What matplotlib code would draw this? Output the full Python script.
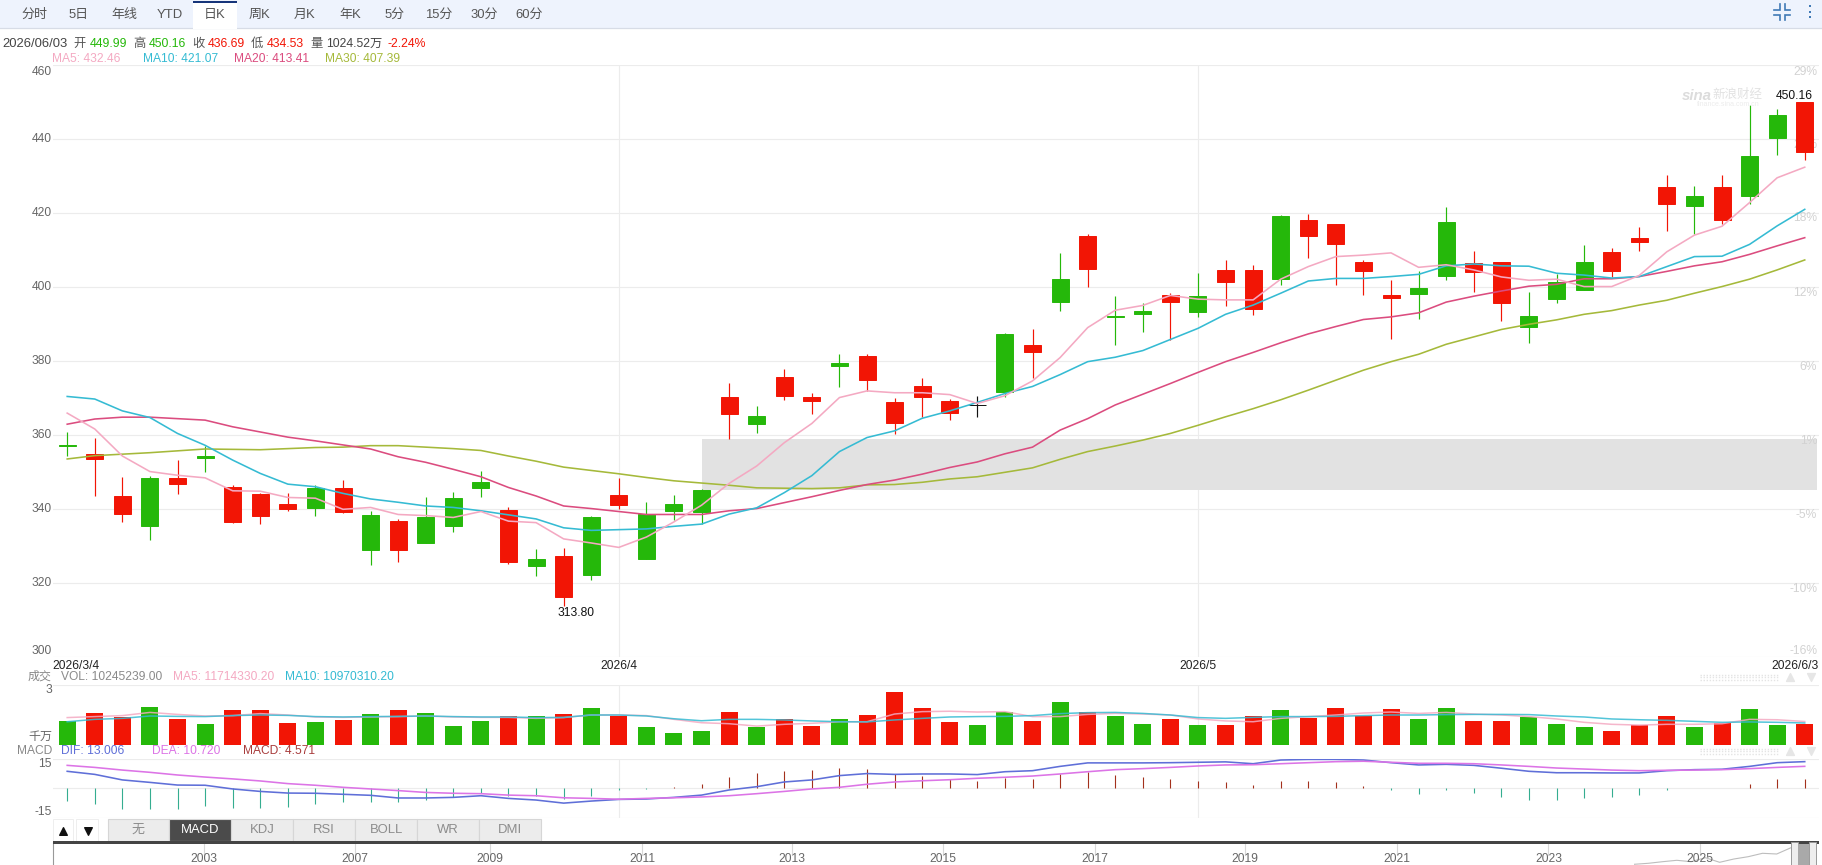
import numpy as np
import matplotlib
matplotlib.use("Agg")
import matplotlib.pyplot as plt
from matplotlib.patches import Rectangle

plt.rcParams['font.family'] = ['Liberation Sans', 'Noto Sans CJK SC', 'DejaVu Sans']

W, H = 1822, 865

# Daily candles, 2026/3/4 to 2026/6/3
opens = [357.2,355.0,343.6,335.5,348.5,353.9,346.0,344.1,341.4,340.4,345.8,329.0,336.8,330.9,335.5,345.8,
         339.8,324.7,327.4,322.3,343.8,326.6,339.5,339.3,370.3,363.0,375.8,370.3,378.7,381.4,369.0,373.3,
         369.3,368.2,371.7,384.4,396.0,413.9,392.1,392.8,397.9,393.3,404.7,404.7,402.2,418.2,417.1,406.8,
         397.9,398.2,403.0,406.5,406.8,389.3,396.8,399.3,409.5,413.3,427.1,422.0,427.1,424.7,440.3,449.99]
closes = [357.4,353.6,338.7,348.5,346.8,354.4,336.6,338.2,340.1,345.8,339.3,338.5,329.0,338.0,343.1,347.4,
          325.8,326.6,316.3,337.9,341.2,338.8,341.4,345.2,365.8,365.2,370.6,369.2,379.5,374.9,363.3,370.3,
          366.0,368.2,387.4,382.5,402.2,404.9,392.3,393.6,396.0,397.6,401.4,394.1,419.3,413.9,411.7,404.4,
          397.1,399.8,417.6,404.1,395.7,392.2,401.4,406.8,404.4,412.2,422.5,424.7,418.2,435.5,446.6,436.69]
highs = [360.8,359.3,348.6,349.1,353.3,357.2,346.7,344.4,344.4,346.5,347.8,339.6,337.3,343.2,344.7,350.4,
         340.7,329.4,329.5,338.2,348.5,341.9,343.9,345.4,374.1,367.9,377.8,371.3,381.9,381.9,370.1,375.4,
         369.8,370.6,387.7,388.6,409.3,414.3,397.6,395.7,398.5,403.8,407.5,405.9,419.5,419.8,417.1,407.5,
         402.1,404.4,421.8,409.7,406.8,398.7,403.6,411.3,410.5,416.4,430.4,427.4,430.3,449.2,448.2,450.16]
lows = [354.4,343.7,336.6,331.7,344.1,350.1,336.2,336.0,339.5,338.2,339.1,325.0,325.8,330.9,333.9,343.3,
        325.2,322.0,313.80,320.9,340.0,326.6,337.1,336.0,359.0,360.5,369.5,365.8,373.0,371.9,360.4,365.0,
        364.1,364.9,370.4,375.6,393.7,400.2,384.5,388.0,385.7,392.0,394.9,392.4,400.5,407.9,400.7,398.0,
        385.9,391.3,402.0,398.6,390.9,384.9,395.7,399.3,402.7,409.8,415.2,414.5,417.1,422.5,435.8,434.53]

# Moving averages of the close
ma5 = [366.0,361.7,354.4,350.2,349.2,348.5,345.0,344.9,343.2,343.0,340.0,340.5,338.6,338.3,337.8,339.4,
       336.8,336.4,332.0,330.9,329.7,332.5,336.6,341.1,347.0,351.7,358.0,363.2,370.2,372.0,371.5,371.5,
       371.0,368.6,370.7,374.7,381.0,389.1,393.8,395.1,397.8,396.8,396.6,396.6,402.2,405.6,408.3,408.7,
       409.3,405.4,406.1,404.7,402.8,401.9,402.2,400.2,400.2,403.2,409.6,414.1,416.5,422.9,429.6,432.46]
ma10 = [370.5,369.8,366.6,364.8,360.5,357.3,353.3,349.7,346.8,346.1,344.3,342.8,341.9,340.9,340.5,339.6,
        338.5,337.4,335.0,334.3,334.5,334.7,335.4,336.0,338.7,340.4,344.5,349.1,355.6,359.4,361.2,364.6,
        366.6,368.9,371.3,373.2,376.4,379.9,381.1,382.9,385.9,388.9,392.7,395.2,398.4,401.7,402.4,402.4,
        402.9,403.5,405.8,406.3,405.8,405.7,403.8,403.3,402.5,402.9,405.6,408.3,408.4,411.6,416.6,421.07]
ma20 = [363.0,364.4,364.9,364.9,364.5,364.1,362.3,360.9,359.5,358.5,357.4,356.3,354.2,352.7,350.8,348.8,
        345.9,343.6,340.9,340.2,339.4,338.6,338.6,338.6,339.6,340.2,341.8,343.4,345.1,346.7,347.9,349.5,
        351.3,352.8,355.0,356.8,361.4,364.5,368.2,371.1,374.0,377.0,379.9,382.4,385.0,387.4,389.4,391.3,
        392.0,393.1,396.0,397.6,399.0,400.3,400.8,402.3,402.3,402.9,404.3,405.8,406.9,408.9,411.2,413.41]
ma30 = [353.6,354.5,354.9,355.3,355.8,356.3,356.2,356.1,356.4,356.7,356.8,357.2,357.2,356.8,356.4,355.9,
        354.4,353.0,351.4,350.5,349.6,348.6,347.7,347.1,346.5,345.8,345.7,345.6,345.8,346.6,346.7,347.3,
        348.2,348.8,350.0,351.2,353.5,355.6,357.1,358.7,360.5,362.7,365.0,367.2,369.6,372.2,374.9,377.6,
        379.9,381.9,384.6,386.6,388.6,390.0,391.2,392.7,393.7,395.2,396.5,398.4,400.2,402.2,404.7,407.39]

# Volume in units of ten million shares, with its own averages
volume = [1.197,1.601,1.399,1.904,1.298,1.045,1.753,1.753,1.096,1.146,1.247,1.551,1.753,1.601,0.944,1.197,
          1.449,1.449,1.551,1.854,1.449,0.893,0.590,0.691,1.652,0.893,1.298,0.944,1.298,1.500,2.663,1.854,
          1.146,0.994,1.652,1.197,2.157,1.652,1.449,1.045,1.298,0.994,0.994,1.449,1.753,1.348,1.854,1.449,
          1.803,1.298,1.854,1.197,1.197,1.399,1.045,0.893,0.691,0.994,1.449,0.893,1.096,1.803,0.994,1.0245]
vol_ma5 = [1.37,1.42,1.47,1.63,1.53,1.45,1.47,1.57,1.50,1.40,1.38,1.40,1.42,1.45,1.40,1.38,1.38,1.33,1.37,1.50,1.50,
           1.47,1.28,1.11,1.06,0.94,1.03,1.08,1.16,1.16,1.55,1.67,1.69,1.65,1.67,1.42,1.42,1.53,1.58,1.55,1.50,1.30,1.20,
           1.16,1.33,1.42,1.50,1.60,1.65,1.58,1.63,1.55,1.50,1.42,1.30,1.13,1.03,0.99,1.03,1.03,1.06,1.28,1.26,1.171]
vol_ma10 = [1.16,1.28,1.33,1.45,1.43,1.42,1.47,1.50,1.48,1.42,1.40,1.42,1.43,1.45,1.42,1.40,1.40,1.37,1.38,1.50,1.50,
            1.45,1.31,1.21,1.28,1.28,1.25,1.20,1.16,1.15,1.25,1.33,1.40,1.42,1.43,1.47,1.57,1.62,1.63,1.58,1.50,1.37,1.33,
            1.38,1.42,1.42,1.43,1.47,1.50,1.50,1.52,1.53,1.53,1.52,1.45,1.40,1.30,1.26,1.23,1.18,1.13,1.15,1.13,1.097]

# MACD study
dif = [8.3,6.8,4.1,2.9,1.6,1.5,-0.3,-1.5,-2.3,-2.4,-2.9,-3.4,-4.7,-4.7,-4.4,-3.6,-4.9,-5.7,-7.2,-6.2,-5.4,
       -5.2,-4.4,-3.3,-0.8,0.8,3.1,4.1,6.2,7.2,6.8,7.0,7.0,6.7,8.1,8.6,10.7,12.4,12.4,12.4,12.5,12.7,12.9,
       12.0,13.8,14.1,14.1,13.8,12.5,11.4,11.7,11.2,9.8,8.3,7.6,7.6,7.5,7.5,8.6,9.1,9.3,10.7,12.5,13.006]
dea = [11.2,10.2,8.9,7.8,6.5,5.5,4.6,3.6,2.3,1.5,0.5,-0.3,-1.1,-2.0,-2.4,-2.6,-3.3,-3.6,-4.6,-4.9,-5.3,
       -4.9,-4.6,-4.2,-3.6,-2.6,-1.5,-0.3,0.5,2.0,3.1,3.7,4.2,4.9,5.4,6.0,7.0,8.1,9.1,9.6,10.2,10.9,11.4,
       11.5,12.0,12.5,13.0,13.2,12.7,12.2,12.2,12.0,11.4,10.7,9.9,9.4,8.9,8.6,8.8,8.9,9.1,9.6,10.2,10.72]
macd = [-6.2,-7.6,-10.1,-10.2,-10.1,-8.6,-9.6,-9.6,-9.1,-7.6,-6.8,-6.5,-6.8,-5.7,-4.4,-2.4,-3.7,-3.9,-5.4,-3.6,-1.0,
        -0.1,0.8,2.1,5.4,7.3,8.6,8.9,10.1,9.6,6.8,5.9,4.6,3.6,5.0,4.7,6.8,8.1,6.5,5.4,4.4,3.6,3.1,
        1.6,3.6,3.6,2.9,1.1,-1.0,-2.6,-1.0,-2.3,-4.2,-5.7,-5.7,-4.7,-4.4,-3.1,-0.6,0.3,0.3,2.3,4.4,4.571]

# Overview strip under the year axis
overview = [0.7,1.7,3.3,4.7,3.3,7.3,2.7,6.0,8.3,11.7,11.0,17.3]

price_ticks = [460,440,420,400,380,360,340,320,300]
pct_labels = ['29%','24%','18%','12%','6%','1%','-5%','-10%','-16%']
month_idx = [20,41]
month_labels = ['2026/4','2026/5']
year_labels = ['2003','2007','2009','2011','2013','2015','2017','2019','2021','2023','2025']
period_tabs = ['分时','5日','年线','YTD','日K','周K','月K','年K','5分','15分','30分','60分']
study_tabs = ['无','MACD','KDJ','RSI','BOLL','WR','DMI']

RED, GREEN = '#f21505', '#25b80a'
C_MA5, C_MA10, C_MA20, C_MA30 = '#f4a9c2', '#35bbd3', '#db4c7f', '#a5b93a'
GRID = '#ececec'
n = len(opens)
x = np.arange(n)
x_first, step = 67.2, 27.58
L, R = 52.6, 1819.0
xlim = ((L - x_first) / step, (R - x_first) / step)
BODY = 17 / step


def panel(top, bottom):
    ax = fig.add_axes([L / W, 1 - bottom / H, (R - L) / W, (bottom - top) / H])
    ax.set_xlim(*xlim)
    ax.patch.set_alpha(0)
    for s in ax.spines.values():
        s.set_visible(False)
    ax.set_xticks([])
    ax.tick_params(left=False, labelleft=False)
    return ax


def px(s):
    return s * 0.72


fig = plt.figure(figsize=(W / 100, H / 100), dpi=100, facecolor='white')

# overlay in figure pixels for chrome and text
ui = fig.add_axes([0, 0, 1, 1], zorder=10)
ui.set_xlim(0, W)
ui.set_ylim(H, 0)
ui.axis('off')
ui.patch.set_alpha(0)

# --- price panel ---
ax = panel(65.3, 657.3)
ax.set_ylim(300, 460)
ax.set_yticks(price_ticks)
ax.grid(axis='y', color=GRID, lw=0.8, zorder=0)
ax.set_axisbelow(True)
for m in month_idx:
    ax.axvline(m, color=GRID, lw=0.8, zorder=0)
ax.add_patch(Rectangle((23.0, 345.2), xlim[1] - 23.0 - 0.07, 13.8, fc='#e2e2e2', ec='none', zorder=1))
colors = [('#111111' if o == c else (GREEN if c > o else RED)) for o, c in zip(opens, closes)]
ax.vlines(x, lows, highs, colors=colors, lw=0.85, zorder=2)
ax.bar(x, np.abs(np.subtract(closes, opens)), BODY, np.minimum(opens, closes),
       color=colors, edgecolor=colors, lw=0.7, zorder=3)
for vals, c in [(ma30, C_MA30), (ma20, C_MA20), (ma10, C_MA10), (ma5, C_MA5)]:
    ax.plot(x, vals, color=c, lw=1.15, zorder=4, solid_joinstyle='round')

# percent scale sits under the candles
pct_y = [71.7, 145, 218.3, 292.7, 366.7, 440.5, 515, 589, 651]
for yp, s in zip(pct_y, pct_labels):
    ax.text(1817, yp, s, color='#d2d2d2', ha='right', va='center', fontsize=px(12),
            transform=ui.transData, zorder=1.5, clip_on=False)

# --- volume panel ---
ax_v = panel(685.3, 744.7)
ax_v.set_ylim(0, 3)
ax_v.set_yticks([0, 3])
ax_v.grid(axis='y', color=GRID, lw=0.8)
ax_v.set_axisbelow(True)
for m in month_idx:
    ax_v.axvline(m, color=GRID, lw=0.8, zorder=0)
vol_colors = [GREEN if c >= o else RED for o, c in zip(opens, closes)]
ax_v.bar(x, volume, BODY, color=vol_colors, zorder=2)
ax_v.plot(x, vol_ma5, color=C_MA5, lw=1.1, alpha=0.85, zorder=3)
ax_v.plot(x, vol_ma10, color=C_MA10, lw=1.1, alpha=0.85, zorder=3)

# --- MACD panel ---
ax_m = panel(759.3, 818.3)
ax_m.set_ylim(-14.6, 14.15)
ax_m.set_yticks([-14.6, 0, 14.15])
ax_m.grid(axis='y', color=GRID, lw=0.8)
ax_m.set_axisbelow(True)
for m in month_idx:
    ax_m.axvline(m, color=GRID, lw=0.8, zorder=0)
hist_colors = ['#a3301c' if v > 0 else '#35ad90' for v in macd]
ax_m.vlines(x, 0, macd, colors=hist_colors, lw=0.8, zorder=2)
ax_m.plot(x, dif, color='#5f6fd8', lw=1.15, zorder=3)
ax_m.plot(x, dea, color='#dc74e6', lw=1.15, zorder=3)

# --- overview line ---
ax_n = fig.add_axes([1634 / W, 0, 157 / W, 20 / H])
ax_n.axis('off')
ax_n.set_ylim(0, 20)
ax_n.plot(np.linspace(0, 1, len(overview)), overview, color='#bdbdbd', lw=0.8)
ax_n.set_xlim(0, 1)


def t(xp, yp, s, color='#555555', ha='left', size=12, **kw):
    ui.text(xp, yp, s, color=color, ha=ha, va='center', fontsize=px(size), **kw)


def rect(x0, y0, x1, y1, fc, ec='none', lw=0.0, z=1):
    ui.add_patch(Rectangle((x0, y0), x1 - x0, y1 - y0, fc=fc, ec=ec, lw=lw, zorder=z))


# period toolbar
rect(0, 0, W, 28, '#eef3fd')
ui.plot([0, W], [28.3, 28.3], color='#d7dce6', lw=0.9, zorder=2)
rect(192.6, 1, 236.5, 29, 'white', z=3)
rect(192.6, 0.8, 236.5, 2.6, '#17357a', z=4)
tab_x = [34.4, 79, 124.5, 169.6, 215, 259.6, 305, 350, 394.6, 439, 484, 529]
for xp, s in zip(tab_x, period_tabs):
    t(xp, 14.7, s, ha='center', size=13, zorder=5)

# collapse icon and menu dots
ic = '#3f79b5'
cx, cy = 1782, 12
for sx in (-1, 1):
    for sy in (-1, 1):
        ui.plot([cx + sx * 8, cx + sx * 2.5, cx + sx * 2.5], [cy + sy * 2.5, cy + sy * 2.5, cy + sy * 8],
                color=ic, lw=1.2, zorder=5, solid_joinstyle='miter')
ui.scatter([1810, 1810, 1810], [6, 11.7, 17.3], s=3.5, marker='s', color=ic, linewidths=0, zorder=5)

# quote summary
t(2.8, 43.7, '2026/06/03', '#444444', size=13)
for xp, s, c in [(73.5, '开', '#555555'), (90, '449.99', GREEN), (133, '高', '#555555'), (149, '450.16', GREEN),
                 (192, '收', '#555555'), (208, '436.69', RED), (251, '低', '#555555'), (267, '434.53', RED),
                 (310, '量', '#555555'), (326.6, '1024.52万', '#444444'), (387.5, '-2.24%', RED)]:
    t(xp, 43.7, s, c, size=12.3)
for xp, s, c in [(52, 'MA5: 432.46', C_MA5), (143, 'MA10: 421.07', C_MA10),
                 (234, 'MA20: 413.41', C_MA20), (325, 'MA30: 407.39', C_MA30)]:
    t(xp, 58.7, s, c)

# price scale labels
tick_y = [71.7, 139, 213, 287, 360.7, 435, 509, 583, 650.7]
for yp, s in zip(tick_y, price_ticks):
    t(52, yp, str(s), '#666666', ha='right')

# extreme value labels
t(1775.7, 95.7, f'{highs[-1]:.2f}', '#111111')
t(558, 612.7, f'{min(lows):.2f}', '#111111')

# date labels
t(L, 665.7, '2026/3/4', '#222222')
for m, s in zip(month_idx, month_labels):
    t(x_first + m * step, 665.7, s, '#222222', ha='center')
t(1819, 665.7, '2026/6/3', '#222222', ha='right')

# watermark
t(1682, 96, 'sina', '#dcdcdc', size=15, style='italic', weight='bold')
t(1712, 95, '新浪财经', '#e2e2e2', size=12.5, style='italic')
t(1697, 105, 'finance.sina.com.cn', '#ececec', size=7)

# volume header
t(52, 676.7, '成交', '#888888', ha='right')
t(61, 676.7, 'VOL: 10245239.00', '#8a8a8a')
t(173, 676.7, 'MA5: 11714330.20', C_MA5)
t(284.7, 676.7, 'MA10: 10970310.20', C_MA10)
t(52, 690, '3', '#666666', ha='right')
t(52, 737.3, '千万', '#666666', ha='right')

# MACD header
t(52, 750.7, 'MACD', '#888888', ha='right')
t(61, 750.7, 'DIF: 13.006', '#5f6fd8')
t(152, 750.7, 'DEA: 10.720', '#dc74e6')
t(243, 750.7, 'MACD: 4.571', '#a83c3c')
t(52, 764, '15', '#666666', ha='right')
t(52, 812, '-15', '#666666', ha='right')

# panel resize handles
for yh in (677, 751):
    for dy in (-2.5, 0, 2.5):
        ui.plot([1700, 1778], [yh + dy, yh + dy], color='#e4e4e4', lw=1.0, ls=(0, (1, 1.2)))
    ui.scatter([1790], [yh], s=32, marker='^', color='#e6e6e6', zorder=3)
    ui.scatter([1811], [yh], s=32, marker='v', color='#e6e6e6', zorder=3)

# study selector
rect(53, 819, 73, 841, 'white', '#eeeeee', 0.7)
rect(76, 819, 98, 841, 'white', '#eeeeee', 0.7)
ui.scatter([63.3], [831], s=30, marker='^', color='#111111', zorder=3)
ui.scatter([87.5], [831], s=30, marker='v', color='#111111', zorder=3)
tab_w = 61.9
for i, s in enumerate(study_tabs):
    x0 = 107.5 + i * tab_w
    active = s == 'MACD'
    rect(x0, 819, x0 + tab_w, 840.7, '#4b4b4b' if active else '#ececec', '#d6d6d6', 0.8)
    t(x0 + tab_w / 2, 830, s, 'white' if active else '#8c8c8c', ha='center', size=13, zorder=4)

# year axis
rect(L, 841, 1819, 844, '#444444', z=3)
ui.plot([L, L], [842, H], color='#999999', lw=0.8)
year_x = [203.6, 354.7, 490, 642.4, 792.3, 943.3, 1094.8, 1245, 1397, 1548.4, 1699.5]
for xp, s in zip(year_x, year_labels):
    ui.plot([xp, xp], [844, 855], color='#d8d8d8', lw=0.8)
    t(xp, 859.5, s, '#666666', ha='center')

# range slider
rect(1791, 842, 1797.5, H, '#eeeeee', '#9a9a9a', 0.7, z=4)
rect(1797.5, 844, 1809, H, '#a9a9a9', z=4)
rect(1809, 842, 1816, H, '#eeeeee', '#9a9a9a', 0.7, z=4)

fig.savefig('out.png', dpi=100, facecolor='white')
